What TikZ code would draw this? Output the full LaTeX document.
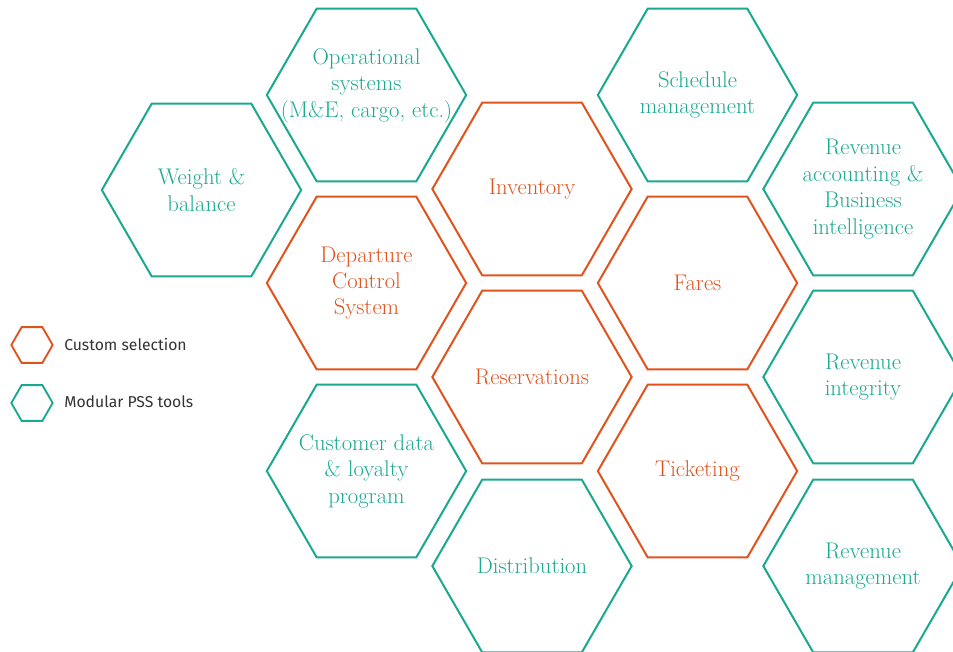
\documentclass[tikz,border=0pt]{standalone}
\usepackage{fontspec}
\newfontfamily\legendfont{Fira Sans}
\usetikzlibrary{shapes.geometric}
\definecolor{custom}{HTML}{E0531F}
\definecolor{modular}{HTML}{1AA891}
\definecolor{legendtext}{HTML}{333333}
\tikzset{
  hexa/.style={regular polygon,regular polygon sides=6,
    minimum size=149.5pt,inner sep=-30pt,line width=1.5pt,align=center,
    font=\fontsize{17}{19.8}\selectfont},
  custom hex/.style={hexa,draw=custom,text=custom},
  modular hex/.style={hexa,draw=modular,text=modular},
  legend hex/.style={regular polygon,regular polygon sides=6,
    minimum size=31pt,inner sep=0pt,line width=1.4pt},
  legend label/.style={anchor=west,inner sep=0pt,text=legendtext,
    font=\legendfont\fontsize{11.8}{13}\selectfont}
}
\begin{document}
\begin{tikzpicture}[x=0.75pt,y=-0.75pt]
\useasboundingbox (0,0) rectangle (953,651);
% first column
\node[modular hex] (weight) at (201.5,190) {Weight \&\\balance};
% second column
\node[modular hex,text depth=18pt] (opsys) at (366.5,95) {Operational\\systems\\(M\&E, cargo, etc.)};
\node[custom hex] (dcs) at (366.5,283) {Departure\\Control\\System};
\node[modular hex] (loyalty) at (366.5,471) {Customer data\\\& loyalty\\program};
% third column
\node[custom hex] (inventory) at (532,189) {Inventory};
\node[custom hex] (reservations) at (532,377) {Reservations};
\node[modular hex] (distribution) at (532,566) {Distribution};
% fourth column
\node[modular hex] (schedule) at (697.5,95) {Schedule\\management};
\node[custom hex] (fares) at (697.5,283) {Fares};
\node[custom hex] (ticketing) at (697.5,471) {Ticketing};
% fifth column
\node[modular hex] (revacc) at (863,189) {Revenue\\accounting \&\\Business\\intelligence};
\node[modular hex] (revint) at (863,377) {Revenue\\integrity};
\node[modular hex] (revmgmt) at (863,566) {Revenue\\management};
% legend
\node[legend hex,draw=custom] (keycustom) at (32,345) {};
\node[legend hex,draw=modular] (keymodular) at (32,403) {};
\node[legend label] (labcustom) at (64,344) {Custom selection};
\node[legend label] (labmodular) at (64,402) {Modular PSS tools};
\end{tikzpicture}
\end{document}
